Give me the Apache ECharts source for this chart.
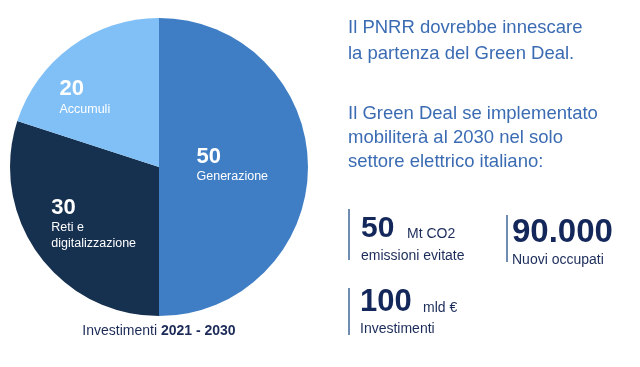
<!DOCTYPE html>
<html>
<head>
<meta charset="utf-8">
<style>html,body{margin:0;padding:0;background:#fff}#c{width:640px;height:367px}</style>
<script src="https://cdn.jsdelivr.net/npm/echarts@6/dist/echarts.min.js"></script>
</head>
<body>
<div id="c"></div>
<script>
// ---- data ----
const categories = ['Generazione', 'Reti e\ndigitalizzazione', 'Accumuli'];
const values = [50, 30, 20];
const pieTitle = ['Investimenti ', '2021 - 2030'];
const headerLines = [
  'Il PNRR dovrebbe innescare',
  'la partenza del Green Deal.',
  'Il Green Deal se implementato',
  'mobiliterà al 2030 nel solo',
  'settore elettrico italiano:'
];
const kpiValues = ['50', '90.000', '100'];
const kpiUnits = ['Mt CO2', '', 'mld €'];
const kpiLabels = ['emissioni evitate', 'Nuovi occupati', 'Investimenti'];

// ---- styles / layout ----
const FONT = '"Liberation Sans", Arial, sans-serif';
const sliceColors = ['#3f7ec4', '#16304f', '#80c0f6'];
const labelShift = [[-40, -2], [-45, 11], [-54, -7]];
const headerY = [28, 54, 114, 138, 162];
const kpiLayout = [
  {x: 349, y1: 209, y2: 260, vx: 361, vy: 229, vs: 30, ux: 407, uy: 234, ly: 256},
  {x: 507, y1: 215, y2: 262, vx: 512, vy: 233, vs: 33, ux: 0, uy: 0, ly: 260},
  {x: 349, y1: 288, y2: 335, vx: 360, vy: 302, vs: 31, ux: 423, uy: 308, ly: 329}
];

const chart = echarts.init(document.getElementById('c'), null, {renderer: 'canvas'});

const graphics = [];
headerLines.forEach((t, i) => {
  graphics.push({type: 'text', x: 348, y: headerY[i], silent: true,
    style: {text: t, fontFamily: FONT, fontSize: 18.5, fill: '#3b6cb3', verticalAlign: 'middle', align: 'left'}});
});
kpiValues.forEach((v, i) => {
  const L = kpiLayout[i];
  graphics.push({type: 'line', silent: true,
    shape: {x1: L.x, y1: L.y1, x2: L.x, y2: L.y2},
    style: {stroke: '#6f8cb3', lineWidth: 2}});
  graphics.push({type: 'text', x: L.vx, y: L.vy, silent: true,
    style: {text: v, fontFamily: FONT, fontSize: L.vs, fontWeight: 'bold', fill: '#14275a', verticalAlign: 'middle', align: 'left'}});
  if (kpiUnits[i]) {
    graphics.push({type: 'text', x: L.ux, y: L.uy, silent: true,
      style: {text: kpiUnits[i], fontFamily: FONT, fontSize: 14, fill: '#1c2c5a', verticalAlign: 'middle', align: 'left'}});
  }
  graphics.push({type: 'text', x: L.vx, y: L.ly, silent: true,
    style: {text: kpiLabels[i], fontFamily: FONT, fontSize: 14, fill: '#1c2c5a', verticalAlign: 'middle', align: 'left'}});
});
graphics.push({type: 'text', x: 159, y: 331, silent: true,
  style: {
    text: '{a|' + pieTitle[0] + '}{b|' + pieTitle[1] + '}',
    align: 'center', verticalAlign: 'middle',
    rich: {
      a: {fontFamily: FONT, fontSize: 14, fill: '#1b2a57'},
      b: {fontFamily: FONT, fontSize: 14, fontWeight: 'bold', fill: '#1b2a57'}
    }
  }});

chart.setOption({
  animation: false,
  backgroundColor: '#ffffff',
  series: [{
    type: 'pie',
    center: [159, 167],
    radius: [0, 149],
    startAngle: 90,
    clockwise: true,
    silent: true,
    data: categories.map((c, i) => ({name: c, value: values[i], itemStyle: {color: sliceColors[i]}})),
    label: {
      show: true,
      position: 'inside',
      formatter: p => '{v|' + p.value + '}\n' + p.name.split('\n').map(s => '{n|' + s + '}').join('\n'),
      rich: {
        v: {fontFamily: FONT, fontSize: 22, fontWeight: 'bold', color: '#ffffff', lineHeight: 24, align: 'left'},
        n: {fontFamily: FONT, fontSize: 12.5, color: '#ffffff', lineHeight: 16, align: 'left'}
      }
    },
    labelLine: {show: false},
    labelLayout: p => ({dx: labelShift[p.dataIndex][0], dy: labelShift[p.dataIndex][1], align: 'left', verticalAlign: 'middle'})
  }],
  graphic: graphics
});
</script>
</body>
</html>
